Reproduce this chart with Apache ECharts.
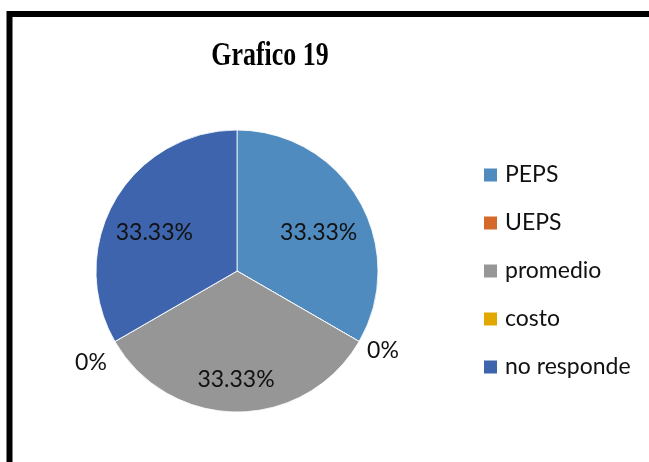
<!DOCTYPE html>
<html>
<head>
<meta charset="utf-8">
<script src="https://cdn.jsdelivr.net/npm/echarts@6/dist/echarts.min.js"></script>
<style>
  html, body { margin: 0; padding: 0; background: #fff; }
  #main { width: 649px; height: 462px; }
</style>
</head>
<body>
<div id="main"></div>
<script>
// datos del grafico
const categorias = ['PEPS', 'UEPS', 'promedio', 'costo', 'no responde'];
const valores = [1, 0, 1, 0, 1];
const colores = ['#4F8BBF', '#D4692B', '#969696', '#E3A800', '#3D64AD'];

const total = valores.reduce(function (a, b) { return a + b; }, 0);

const chart = echarts.init(document.getElementById('main'));

// pequeños ajustes de posicion de etiquetas (como en Excel "best fit")
const ajuste = [[18, -2], [3, 9], [-1, 35], [-3, 21], [-19, -2]];

const datos = categorias.map(function (nombre, i) {
    const cero = valores[i] === 0;
    return {
        name: nombre,
        value: valores[i],
        itemStyle: { color: colores[i] },
        label: cero
            ? { position: 'outside', distanceToLabelLine: 5 }
            : { position: 'inside' },
        labelLine: { show: false, length: 0, length2: 0 }
    };
});

const option = {
    backgroundColor: '#fff',
    animation: false,
    graphic: [{
        type: 'rect',
        shape: { x: 9.5, y: 14, width: 720, height: 520 },
        style: { fill: null, stroke: '#000', lineWidth: 6 },
        silent: true
    }, {
        // titulo (Times bold, algo estirado en vertical)
        type: 'text',
        x: 270,
        y: 56,
        scaleX: 0.96,
        scaleY: 1.22,
        silent: true,
        style: {
            text: 'Grafico 19',
            x: 0,
            y: 0,
            font: 'bold 27px "Liberation Serif"',
            fill: '#000',
            align: 'center',
            verticalAlign: 'middle'
        }
    }],
    legend: {
        orient: 'vertical',
        left: 477,
        top: 158,
        itemWidth: 15,
        itemHeight: 15,
        itemGap: 24,
        icon: 'rect',
        data: categorias,
        textStyle: {
            fontFamily: 'Lato',
            fontSize: 23,
            lineHeight: 24,
            color: '#111',
            padding: [0, 0, 0, 2]
        }
    },
    series: [{
        type: 'pie',
        center: [237, 271],
        radius: 141,
        startAngle: 90,
        clockwise: true,
        avoidLabelOverlap: false,
        stillShowZeroSum: true,
        itemStyle: { borderColor: '#fff', borderWidth: 0.8 },
        label: {
            show: true,
            fontFamily: 'Lato',
            fontSize: 23,
            color: '#111',
            formatter: function (p) {
                if (p.value === 0) return '0%';
                return (p.value / total * 100).toFixed(2) + '%';
            }
        },
        labelLayout: function (p) {
            const a = ajuste[p.dataIndex];
            return { dx: a[0], dy: a[1] };
        },
        data: datos
    }]
};

chart.setOption(option);
</script>
</body>
</html>
